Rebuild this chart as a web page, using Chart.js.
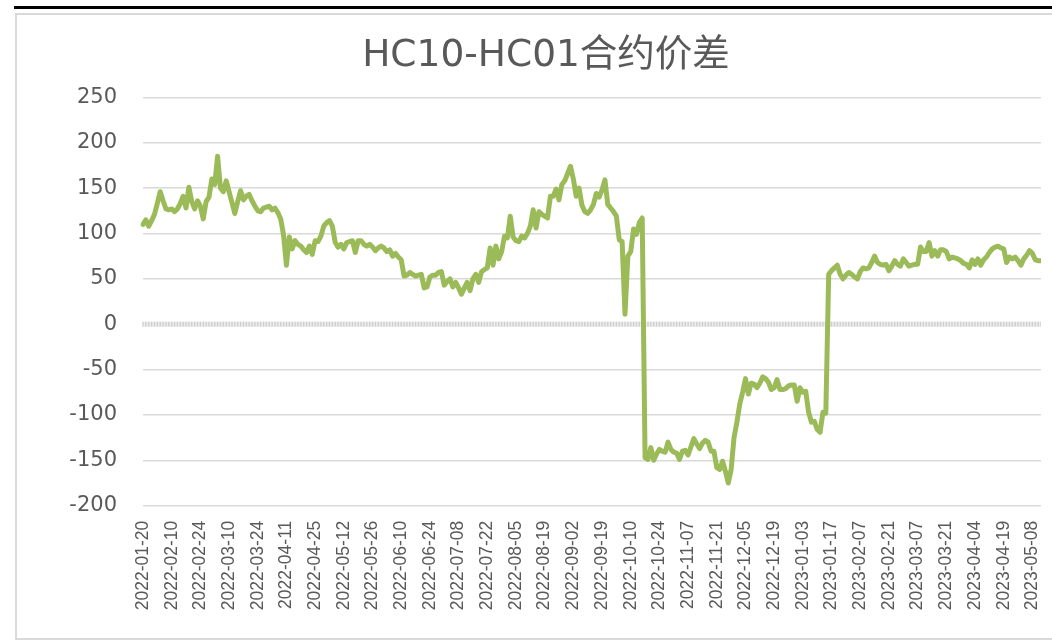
<!DOCTYPE html>
<html>
<head>
<meta charset="utf-8">
<script src="https://cdn.jsdelivr.net/npm/chart.js@4.4.1/dist/chart.umd.min.js"></script>
<style>
  html, body { margin: 0; padding: 0; background: #fff; overflow: hidden; width: 1052px; height: 640px; }
  #topbar { position: absolute; left: 14px; top: 6px; width: 1100px; height: 3px; background: #000; }
  #frame { position: absolute; left: 15px; top: 13px; width: 1100px; height: 627px; border: 2px solid #d9d9d9; box-sizing: border-box; }
  #wrap { position: absolute; left: 16px; top: 14px; width: 1025px; height: 624px; }
</style>
</head>
<body>
<div id="topbar"></div>
<div id="frame"></div>
<div id="wrap"><canvas id="c"></canvas></div>
<script>
const chartTitle = 'HC10-HC01合约价差';

const tickLabels = [
  '2022-01-20','2022-02-10','2022-02-24','2022-03-10','2022-03-24','2022-04-11','2022-04-25','2022-05-12',
  '2022-05-26','2022-06-10','2022-06-24','2022-07-08','2022-07-22','2022-08-05','2022-08-19','2022-09-02',
  '2022-09-19','2022-10-10','2022-10-24','2022-11-07','2022-11-21','2022-12-05','2022-12-19','2023-01-03',
  '2023-01-17','2023-02-07','2023-02-21','2023-03-07','2023-03-21','2023-04-04','2023-04-19','2023-05-08'
];

const spreadValues = [
  110,115,108,114,121,133,146,136,127,126,
  127,124,127,133,141,128,151,135,127,136,
  130,116,135,140,160,154,185,150,146,158,
  146,134,122,135,147,137,141,143,136,130,
  125,124,128,129,130,126,128,123,116,98,
  65,96,83,92,88,86,82,79,86,77,
  92,91,97,108,112,114,108,90,85,88,
  83,90,91,92,79,92,92,88,86,88,
  85,81,84,86,84,80,82,75,78,74,
  71,53,54,57,55,53,54,55,40,41,
  52,54,54,57,58,43,47,50,41,46,
  40,33,40,46,37,50,55,46,58,60,
  62,84,65,86,72,80,97,95,119,96,
  92,91,97,95,100,108,126,106,124,121,
  119,117,141,141,149,137,154,158,166,174,
  160,141,150,131,124,122,126,132,144,140,
  148,159,132,128,124,119,93,91,11,75,
  80,105,99,112,117,-147,-149,-136,-150,-143,
  -138,-140,-141,-130,-138,-141,-142,-149,-140,-139,
  -144,-135,-126,-132,-137,-131,-128,-130,-140,-140,
  -158,-160,-151,-162,-175,-160,-125,-108,-88,-75,
  -60,-77,-65,-66,-70,-65,-58,-60,-64,-72,
  -70,-61,-72,-72,-71,-68,-67,-67,-85,-70,
  -75,-74,-97,-108,-107,-116,-119,-97,-98,55,
  59,62,65,55,50,54,57,55,52,50,
  58,62,61,62,68,75,68,66,65,66,
  59,64,70,66,64,72,68,64,65,66,
  66,85,80,80,90,75,81,75,82,82,
  80,72,74,73,72,70,67,66,62,71,
  66,72,65,71,74,79,83,85,86,84,
  83,68,74,72,74,70,65,72,76,81,
  78,71,70,70
];

const yTickValues = [-200, -150, -100, -50, 0, 50, 100, 150, 200, 250];
const labelEvery = 10;

// category labels: a date shown every 10th trading day
const categories = spreadValues.map((_, i) => (i % labelEvery === 0 && tickLabels[i / labelEvery]) ? tickLabels[i / labelEvery] : '');

const zeroAxisPlugin = {
  id: 'zeroAxis',
  beforeDatasetsDraw(chart) {
    const xs = chart.scales.x, ys = chart.scales.y, ctx = chart.ctx;
    const y0 = ys.getPixelForValue(0);
    ctx.save();
    ctx.fillStyle = '#ececec';
    ctx.fillRect(xs.left, y0 - 2.5, xs.right - xs.left, 5);
    ctx.strokeStyle = '#cfcfcf';
    ctx.lineWidth = 1.3;
    ctx.beginPath();
    for (let i = 0; i < xs.ticks.length; i++) {
      const px = xs.getPixelForTick(i);
      ctx.moveTo(px, y0 - 2.5);
      ctx.lineTo(px, y0 + 2.5);
    }
    ctx.stroke();
    ctx.restore();
  }
};

new Chart(document.getElementById('c'), {
  type: 'line',
  data: {
    labels: categories,
    datasets: [{
      data: spreadValues,
      borderColor: '#9bbb59',
      backgroundColor: '#9bbb59',
      borderWidth: 5,
      pointRadius: 0,
      tension: 0,
      borderJoinStyle: 'round',
      borderCapStyle: 'round',
      fill: false
    }]
  },
  options: {
    responsive: true,
    maintainAspectRatio: false,
    animation: false,
    devicePixelRatio: 1,
    layout: { padding: { left: 35, right: 0, top: 0, bottom: 0 } },
    plugins: {
      legend: { display: false },
      tooltip: { enabled: false },
      title: {
        display: true,
        text: chartTitle,
        color: '#595959',
        font: { family: "'DejaVu Sans', 'Noto Sans CJK SC', sans-serif", size: 37.5, weight: 'normal', lineHeight: 1.2 },
        padding: { top: 20, bottom: 18.3 }
      }
    },
    scales: {
      x: {
        offset: false,
        grid: { display: false, drawTicks: false },
        border: { display: false },
        ticks: {
          autoSkip: false,
          maxRotation: 90,
          minRotation: 90,
          padding: 15,
          color: '#595959',
          font: { family: "'Liberation Sans', Arial, sans-serif", size: 17.5 }
        },
        afterFit(scale) { scale.height = 132.3; scale.paddingLeft = 0; scale.paddingRight = 0; }
      },
      y: {
        min: yTickValues[0],
        max: yTickValues[yTickValues.length - 1],
        afterBuildTicks(scale) { scale.ticks = yTickValues.map(v => ({ value: v })); },
        grid: {
          drawTicks: false,
          lineWidth: 1.5,
          color: (ctx) => (ctx.tick && ctx.tick.value === 0) ? 'rgba(0,0,0,0)' : '#d9d9d9'
        },
        border: { display: false },
        ticks: {
          padding: 26,
          color: '#595959',
          font: { family: "'DejaVu Sans', sans-serif", size: 21 }
        },
        afterFit(scale) { scale.width = 92; scale.paddingTop = 0; scale.paddingBottom = 0; }
      }
    }
  },
  plugins: [zeroAxisPlugin]
});
</script>
</body>
</html>
